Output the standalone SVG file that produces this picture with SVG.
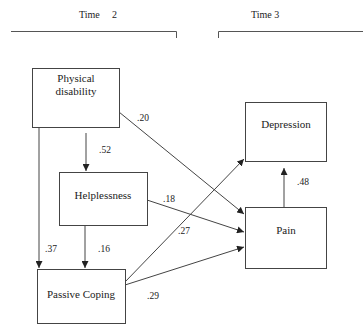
<svg xmlns="http://www.w3.org/2000/svg" width="363" height="324" viewBox="0 0 363 324">
<defs>
<marker id="ah" viewBox="0 0 10 10" refX="10" refY="5" markerWidth="7" markerHeight="7" markerUnits="userSpaceOnUse" orient="auto">
<path d="M0,0 L10,5 L0,10 z" fill="#222"/>
</marker>
<style>
.box{fill:#fff;stroke:#444;stroke-width:1}
.t{font-family:"Liberation Serif","Times New Roman",serif;font-size:11px;fill:#222;text-anchor:middle}
.n{font-family:"Liberation Serif","Times New Roman",serif;font-size:9.5px;fill:#222}
.h{font-family:"Liberation Serif","Times New Roman",serif;font-size:10px;fill:#222}
.c{stroke:#444;stroke-width:1;fill:none;marker-end:url(#ah)}
.br{stroke:#555;stroke-width:1;fill:none}
</style>
</defs>
<rect width="363" height="324" fill="#fff"/>
<g id="timeline">
<text class="h" x="79" y="18">Time</text>
<text class="h" x="112" y="18">2</text>
<text class="h" x="251" y="18">Time 3</text>
<path class="br" d="M11,31.5 H176.5 V38"/>
<path class="br" d="M218.5,38 V31.5 H363"/>
</g>
<g id="connectors">
<line class="c" x1="86" y1="133" x2="86" y2="171"/>
<line class="c" x1="39" y1="127" x2="39" y2="268"/>
<line class="c" x1="85" y1="225" x2="85" y2="268"/>
<line class="c" x1="119" y1="112" x2="244" y2="214"/>
<line class="c" x1="147" y1="200" x2="244" y2="232"/>
<line class="c" x1="125" y1="282" x2="244" y2="159"/>
<line class="c" x1="125" y1="285" x2="244" y2="247"/>
<line class="c" x1="284" y1="207" x2="284" y2="168"/>
<text class="n" x="99" y="153">.52</text>
<text class="n" x="45" y="252">.37</text>
<text class="n" x="98" y="252">.16</text>
<text class="n" x="137" y="121">.20</text>
<text class="n" x="163" y="202">.18</text>
<text class="n" x="178" y="234">.27</text>
<text class="n" x="147" y="299">.29</text>
<text class="n" x="297" y="185">.48</text>
</g>
<g id="physical-disability">
<rect class="box" x="32.5" y="68.5" width="87" height="59"/>
<text class="t" x="76" y="82">Physical</text>
<text class="t" x="76" y="95">disability</text>
</g>
<g id="helplessness">
<rect class="box" x="59.5" y="172.5" width="88" height="53"/>
<text class="t" x="103" y="199">Helplessness</text>
</g>
<g id="passive-coping">
<rect class="box" x="37.5" y="269.5" width="88" height="54"/>
<text class="t" x="81" y="298">Passive Coping</text>
</g>
<g id="depression">
<rect class="box" x="245.5" y="102.5" width="81" height="59"/>
<text class="t" x="286" y="128">Depression</text>
</g>
<g id="pain">
<rect class="box" x="245.5" y="207.5" width="81" height="61"/>
<text class="t" x="286" y="234">Pain</text>
</g>
</svg>
